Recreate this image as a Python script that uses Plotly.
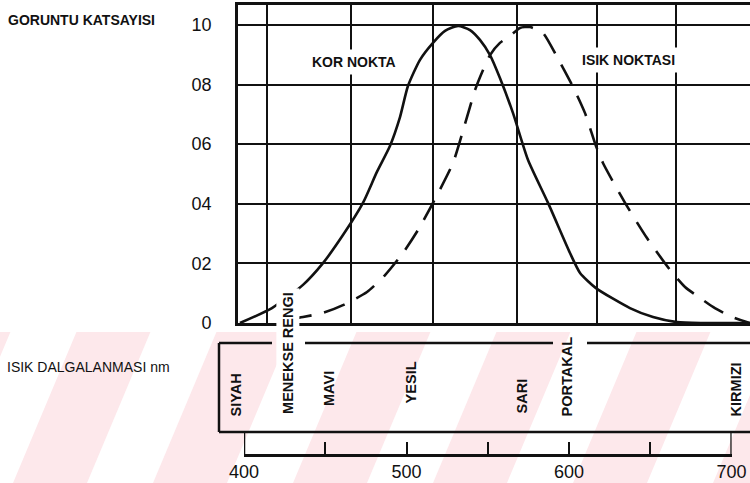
import plotly.graph_objects as go

# ---------------- data ----------------
# Spectral sensitivity curves (wavelength nm, relative coefficient)
KOR_NM = [397.5, 417.2, 436.3, 448.6, 460.9, 473.2, 481.8, 489.8, 496.0, 500.9, 508.3, 516.3,
          523.7, 531.7, 539.1, 545.2, 551.4, 557.5, 565.5, 574.8, 587.1, 600.6, 606.8, 616.6,
          637.5, 651.7, 666.5, 682.5, 711.4]
KOR_VAL = [0.000, 0.050, 0.128, 0.201, 0.295, 0.403, 0.507, 0.594, 0.691, 0.795, 0.883, 0.940,
           0.980, 0.997, 0.983, 0.950, 0.899, 0.822, 0.705, 0.547, 0.403, 0.235, 0.168, 0.117,
           0.050, 0.020, 0.003, 0.000, 0.000]

ISIK_NM = [428.3, 436.3, 448.6, 460.9, 475.7, 486.8, 497.8, 507.1, 516.3, 528.6, 536.0, 542.2,
           547.1, 551.4, 557.5, 563.7, 569.8, 576.0, 584.0, 592.6, 602.5, 609.8, 616.6, 620.9,
           634.5, 648.0, 662.2, 671.4, 680.6, 688.6, 699.1, 711.4]
ISIK_VAL = [0.012, 0.020, 0.034, 0.060, 0.104, 0.161, 0.235, 0.312, 0.403, 0.537, 0.668, 0.782,
            0.849, 0.899, 0.940, 0.963, 0.990, 0.993, 0.973, 0.893, 0.792, 0.705, 0.594, 0.537,
            0.403, 0.285, 0.178, 0.121, 0.084, 0.054, 0.023, 0.000]

Y_TICKS = [0, 0.2, 0.4, 0.6, 0.8, 1.0]
Y_TICKTEXT = ["0", "02", "04", "06", "08", "10"]
GRID_NM = [414, 466, 516, 568, 617, 666]

BOTTOM_TICKS = [400, 450, 500, 550, 600, 650, 700]
BOTTOM_TICKTEXT = ["400", "", "500", "", "600", "", "700"]

COLOR_NAMES = ["SIYAH", "MENEKSE RENGI", "MAVI", "YESIL", "SARI", "PORTAKAL", "KIRMIZI"]
COLOR_NM = [395, 427, 452, 503, 571, 599, 703]

Y_TITLE = "GORUNTU KATSAYISI"
X_TITLE = "ISIK DALGALANMASI nm"
LABEL_KOR = "KOR NOKTA"
LABEL_ISIK = "ISIK NOKTASI"

# ---------------- layout helpers ----------------
W, H = 750, 483
def px(p):
    return p / W
def py(p):
    return 1 - p / H

def nm_at(p):
    return 400 + (p - 244) / 1.625

INK = "#111111"
FONT_B = "Liberation Sans, Arial, sans-serif"
FONT_N = "Liberation Sans Narrow, Liberation Sans, Arial, sans-serif"

fig = go.Figure()

fig.add_trace(go.Scatter(x=KOR_NM, y=KOR_VAL, mode="lines",
                         line=dict(color=INK, width=2.6, shape="spline", smoothing=0.6),
                         xaxis="x", yaxis="y", hoverinfo="skip", showlegend=False))
fig.add_trace(go.Scatter(x=ISIK_NM, y=ISIK_VAL, mode="lines",
                         line=dict(color=INK, width=2.6, dash="22px,13px", shape="spline", smoothing=0.6),
                         xaxis="x", yaxis="y", hoverinfo="skip", showlegend=False))

# bracket ends on the wavelength scale
ends = [BOTTOM_TICKS[0], BOTTOM_TICKS[-1]]
fig.add_trace(go.Scatter(x=[ends[0], ends[0], None, ends[1], ends[1]], y=[0, 1, None, 0, 1],
                         mode="lines", line=dict(color=INK, width=2.5),
                         xaxis="x2", yaxis="y2", hoverinfo="skip", showlegend=False,
                         cliponaxis=False))

shapes = []
# watermark stripes (light pink band with white diagonal gaps)
top_band = 332
shapes.append(dict(type="rect", xref="paper", yref="paper", x0=-0.01, x1=1.01,
                   y0=py(H + 2), y1=py(top_band), fillcolor="#fde8eb", line=dict(width=0),
                   layer="below"))
slope = 0.42
period = 140
ww = 66
c = -300
while c < W + 200:
    xb0 = c - ww / 2
    xb1 = c + ww / 2
    dx = slope * (H - top_band)
    path = (f"M {px(xb0)} {py(H)} L {px(xb1)} {py(H)} L {px(xb1 + dx)} {py(top_band)} "
            f"L {px(xb0 + dx)} {py(top_band)} Z")
    shapes.append(dict(type="path", xref="paper", yref="paper", path=path,
                       fillcolor="white", line=dict(width=0), layer="below"))
    c += period

# color band box (open on the right), top border broken by labels
box_l, box_t, box_b = 219, 343, 432
for (a, b) in [((box_l, box_t), (box_l, box_b)), ((box_l, box_b), (W + 5, box_b)),
               ((box_l, box_t), (272, box_t)), ((305, box_t), (553, box_t)),
               ((587, box_t), (W + 5, box_t))]:
    shapes.append(dict(type="line", xref="paper", yref="paper",
                       x0=px(a[0]), y0=py(a[1]), x1=px(b[0]), y1=py(b[1]),
                       line=dict(color=INK, width=2.5)))

annotations = []
annotations.append(dict(text="<b>" + Y_TITLE + "</b>", xref="paper", yref="paper", x=px(6), y=py(20),
                        xanchor="left", yanchor="middle", showarrow=False,
                        font=dict(family=FONT_B, size=14, color=INK)))
annotations.append(dict(text=X_TITLE, xref="paper", yref="paper", x=px(5), y=py(367),
                        xanchor="left", yanchor="middle", showarrow=False,
                        font=dict(family=FONT_B, size=14, color=INK)))
annotations.append(dict(text="<b>" + LABEL_KOR + "</b>", xref="x", yref="y",
                        x=nm_at(354), y=(323 - 62) / 298, showarrow=False,
                        bgcolor="white", borderpad=4,
                        font=dict(family=FONT_B, size=14, color=INK)))
annotations.append(dict(text="<b>" + LABEL_ISIK + "</b>", xref="x", yref="y",
                        x=nm_at(628), y=(323 - 60) / 298, showarrow=False,
                        bgcolor="white", borderpad=4,
                        font=dict(family=FONT_B, size=14, color=INK)))

bottoms = [418, 418, 408, 405, 415, 418, 418]
for name, nm, bt in zip(COLOR_NAMES, COLOR_NM, bottoms):
    xpix = 244 + (nm - 400) * 1.625
    ann = dict(text="<b>" + name + "</b>", xref="paper", yref="paper",
               x=px(xpix), y=py(bt), xanchor="center", yanchor="bottom",
               textangle=-90, showarrow=False,
               font=dict(family=FONT_B, size=14.5, color=INK))
    if name.startswith("MENEKSE"):
        ann["bgcolor"] = "white"
        ann["borderpad"] = 3
    annotations.append(ann)

fig.update_layout(
    width=W, height=H, autosize=False,
    margin=dict(l=0, r=0, t=0, b=0, pad=0),
    paper_bgcolor="white", plot_bgcolor="rgba(0,0,0,0)",
    showlegend=False,
    shapes=shapes, annotations=annotations,
    xaxis=dict(domain=[px(238), 1], range=[nm_at(238), nm_at(750)],
               tickvals=GRID_NM, showticklabels=False, ticks="",
               showgrid=True, gridcolor=INK, gridwidth=2,
               showline=True, linecolor=INK, linewidth=2.6, mirror=True,
               zeroline=False, anchor="y", fixedrange=True, automargin=False),
    yaxis=dict(domain=[py(323), py(5)], range=[0, 1.067],
               tickvals=Y_TICKS, ticktext=Y_TICKTEXT, ticks="",
               tickfont=dict(family=FONT_N, size=18, color=INK), ticklabelstandoff=20,
               showgrid=True, gridcolor=INK, gridwidth=2,
               showline=True, linecolor=INK, linewidth=2.6,
               zeroline=False, anchor="x", fixedrange=True, automargin=False),
    xaxis2=dict(domain=[px(244), px(731.6)], range=[400, 700],
                tickvals=BOTTOM_TICKS, ticktext=BOTTOM_TICKTEXT,
                ticks="inside", ticklen=12, tickwidth=2, tickcolor=INK,
                tickfont=dict(family=FONT_N, size=18, color=INK), ticklabelstandoff=0,
                showgrid=False, zeroline=False,
                showline=True, linecolor=INK, linewidth=2.5,
                anchor="y2", fixedrange=True, automargin=False),
    yaxis2=dict(domain=[py(454), py(433)], range=[0, 1],
                showgrid=False, zeroline=False, showticklabels=False, ticks="",
                showline=False, anchor="x2", fixedrange=True, automargin=False),
)

fig.write_html("out.html", config={"responsive": False, "displayModeBar": False},
               post_script="document.body.style.margin='0';document.body.style.padding='0';"
                           "document.body.style.overflow='hidden';")
